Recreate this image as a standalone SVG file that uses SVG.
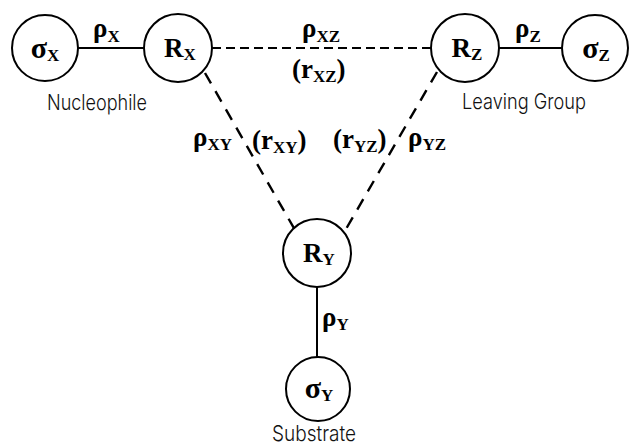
<svg xmlns="http://www.w3.org/2000/svg" width="629" height="445" viewBox="0 0 629 445">
<style>
.node{fill:#fff;stroke:#000;stroke-width:2}
.solid{stroke:#000;stroke-width:2;fill:none}
.dash{stroke:#000;stroke-width:2.2;fill:none;stroke-dasharray:9 5}
.ddash{stroke:#000;stroke-width:2.4;fill:none;stroke-dasharray:12 9}
.lbl{font-family:"Liberation Serif",serif;font-weight:bold;font-size:27px;fill:#000}
.sig{font-size:30px}
.sub{font-size:17px}
.cap{font-family:Inter,Roboto,"DejaVu Sans",sans-serif;font-weight:300;font-size:22px;fill:#111}
</style>
<rect width="629" height="445" fill="#fff"/>
<g id="connectors">
<line class="solid" x1="78" y1="48" x2="144" y2="48"/>
<line class="solid" x1="499" y1="48" x2="562" y2="48"/>
<line class="solid" x1="317" y1="287" x2="317" y2="357"/>
<line class="dash" x1="212" y1="48" x2="431" y2="48"/>
<line class="ddash" x1="205" y1="73" x2="295" y2="230"/>
<line class="ddash" x1="437" y1="72" x2="346" y2="229"/>
<text class="lbl" x="93" y="37">ρ<tspan class="sub" dy="5">X</tspan></text>
<text class="lbl" x="515" y="37">ρ<tspan class="sub" dy="5">Z</tspan></text>
<text class="lbl" x="302" y="37">ρ<tspan class="sub" dy="5">XZ</tspan></text>
<text class="lbl" x="292" y="78">(r<tspan class="sub" dy="4">XZ</tspan><tspan dy="-4">)</tspan></text>
<text class="lbl" x="193" y="146">ρ<tspan class="sub" dy="4">XY</tspan></text>
<text class="lbl" x="252" y="149">(r<tspan class="sub" dy="4">XY</tspan><tspan dy="-4">)</tspan></text>
<text class="lbl" x="333" y="148">(r<tspan class="sub" dy="4">YZ</tspan><tspan dy="-4">)</tspan></text>
<text class="lbl" x="408" y="146">ρ<tspan class="sub" dy="4">YZ</tspan></text>
<text class="lbl" x="322" y="326">ρ<tspan class="sub" dy="4">Y</tspan></text>
</g>
<g id="sigmaX">
<circle class="node" cx="45" cy="48" r="33"/>
<text class="lbl" x="45" y="58" text-anchor="middle"><tspan class="sig">σ</tspan><tspan class="sub" dy="3">X</tspan></text>
<text class="cap" x="47" y="110" textLength="100" lengthAdjust="spacingAndGlyphs">Nucleophile</text>
</g>
<g id="RX">
<circle class="node" cx="178" cy="48" r="34"/>
<text class="lbl" x="180" y="57" text-anchor="middle">R<tspan class="sub" dy="3">X</tspan></text>
</g>
<g id="RZ">
<circle class="node" cx="465" cy="48" r="34"/>
<text class="lbl" x="467" y="57" text-anchor="middle">R<tspan class="sub" dy="3">Z</tspan></text>
<text class="cap" x="462" y="109" textLength="124" lengthAdjust="spacingAndGlyphs">Leaving Group</text>
</g>
<g id="sigmaZ">
<circle class="node" cx="595" cy="48" r="33"/>
<text class="lbl" x="596" y="58" text-anchor="middle"><tspan class="sig">σ</tspan><tspan class="sub" dy="3">Z</tspan></text>
</g>
<g id="RY">
<circle class="node" cx="317" cy="253" r="34"/>
<text class="lbl" x="319" y="262" text-anchor="middle">R<tspan class="sub" dy="3">Y</tspan></text>
</g>
<g id="sigmaY">
<circle class="node" cx="318" cy="389" r="32"/>
<text class="lbl" x="319" y="398" text-anchor="middle"><tspan class="sig">σ</tspan><tspan class="sub" dy="3">Y</tspan></text>
<text class="cap" x="272" y="441" textLength="84" lengthAdjust="spacingAndGlyphs">Substrate</text>
</g>
</svg>
